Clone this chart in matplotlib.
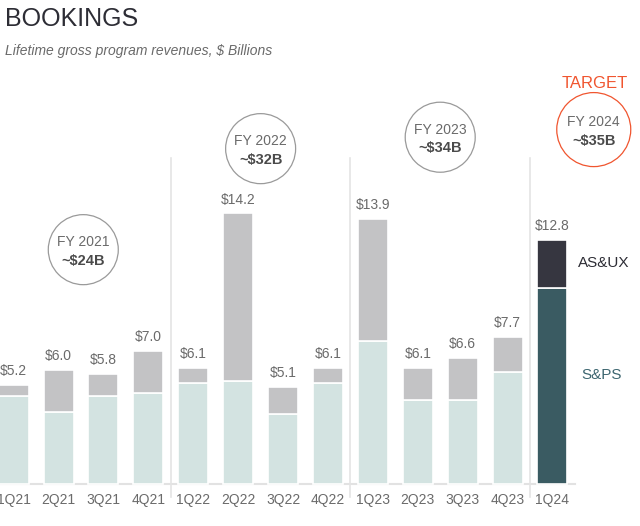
import matplotlib
matplotlib.use("Agg")
import matplotlib.pyplot as plt
from matplotlib.patches import Ellipse

plt.rcParams['font.family'] = ['Liberation Sans', 'DejaVu Sans']

# quarterly bookings, $B
quarters = ["1Q21", "2Q21", "3Q21", "4Q21", "1Q22", "2Q22", "3Q22", "4Q22",
            "1Q23", "2Q23", "3Q23", "4Q23", "1Q24"]
totals = [5.2, 6.0, 5.8, 7.0, 6.1, 14.2, 5.1, 6.1, 13.9, 6.1, 6.6, 7.7, 12.8]
sps = [4.6, 3.8, 4.6, 4.8, 5.3, 5.4, 3.7, 5.3, 7.5, 4.4, 4.4, 5.9, 10.3]
asux = [t - s for t, s in zip(totals, sps)]

fy_labels = ["FY 2021", "FY 2022", "FY 2023", "FY 2024"]
fy_values = ["~$24B", "~$32B", "~$34B", "~$35B"]
fy_pos = [(1.55, 12.3), (5.5, 17.6), (9.5, 18.2), (12.92, 18.6)]

teal_light = "#d3e3e1"
gray_light = "#c3c3c5"
teal_dark = "#3a5b62"
char_dark = "#363640"
orange = "#f0552f"
txt_gray = "#6a6a6a"

fig = plt.figure(figsize=(6.4, 5.26), dpi=100)
ax = fig.add_axes([0, 0, 1, 1])
ax.set_xlim(-0.305, 13.95)
ax.set_ylim(-2.2, 25.4)
ax.axis("off")

xs = list(range(len(quarters)))
bottom_cols = [teal_light] * 12 + [teal_dark]
top_cols = [gray_light] * 12 + [char_dark]
ax.bar(xs, sps, width=0.668, color=bottom_cols, edgecolor="white", linewidth=1.2, zorder=3)
ax.bar(xs, asux, bottom=sps, width=0.668, color=top_cols, edgecolor="white", linewidth=1.2, zorder=3)

# baseline and group separators
ax.plot([-0.4, 12.5], [0, 0], color="#e2e2e2", lw=1.5, zorder=2)
for sx in [3.5, 7.5, 11.5]:
    ax.plot([sx, sx], [17.1, -0.7], color="#e4e4e4", lw=1.2, zorder=2)

for x, t in zip(xs, totals):
    ax.annotate(f"${t:.1f}", (x, t), xytext=(0, 10), textcoords="offset points",
                ha="center", va="center", fontsize=10, color=txt_gray)

for x, q in zip(xs, quarters):
    ax.text(x, -0.84, q, ha="center", va="center", fontsize=10, color=txt_gray)

# fiscal year circles
for i, ((cx, cy), lab, val) in enumerate(zip(fy_pos, fy_labels, fy_values)):
    r = 37 if i == 3 else 35
    ec = orange if i == 3 else "#9a9a9a"
    ax.add_patch(Ellipse((cx, cy), 2 * r / 44.9, 2 * r / 19.05, fill=False,
                         edgecolor=ec, lw=0.9, zorder=4))
    ax.text(cx, cy + 7.5 / 19.05, lab, ha="center", va="center", fontsize=10, color=txt_gray)
    ax.text(cx, cy - 11 / 19.05, val, ha="center", va="center", fontsize=10.5,
            fontweight="bold", color="#4a4a4a")

ax.text(12.95, (484 - 84) / 19.05, "TARGET", ha="center", va="center",
        fontsize=12, color=orange)

ax.text(12.57, (484 - 263) / 19.05, "AS&UX", ha="left", va="center", fontsize=11, color="#2d2d35")
ax.text(12.64, (484 - 375) / 19.05, "S&PS", ha="left", va="center", fontsize=11, color="#3d6670")

fig.text(5 / 640, 1 - 19 / 526, "BOOKINGS", ha="left", va="center", fontsize=18, color="#2d2d35")
fig.text(5 / 640, 1 - 51 / 526, "Lifetime gross program revenues, $ Billions", ha="left",
         va="center", fontsize=10, style="italic", color=txt_gray)

fig.savefig("out.png", dpi=100)
